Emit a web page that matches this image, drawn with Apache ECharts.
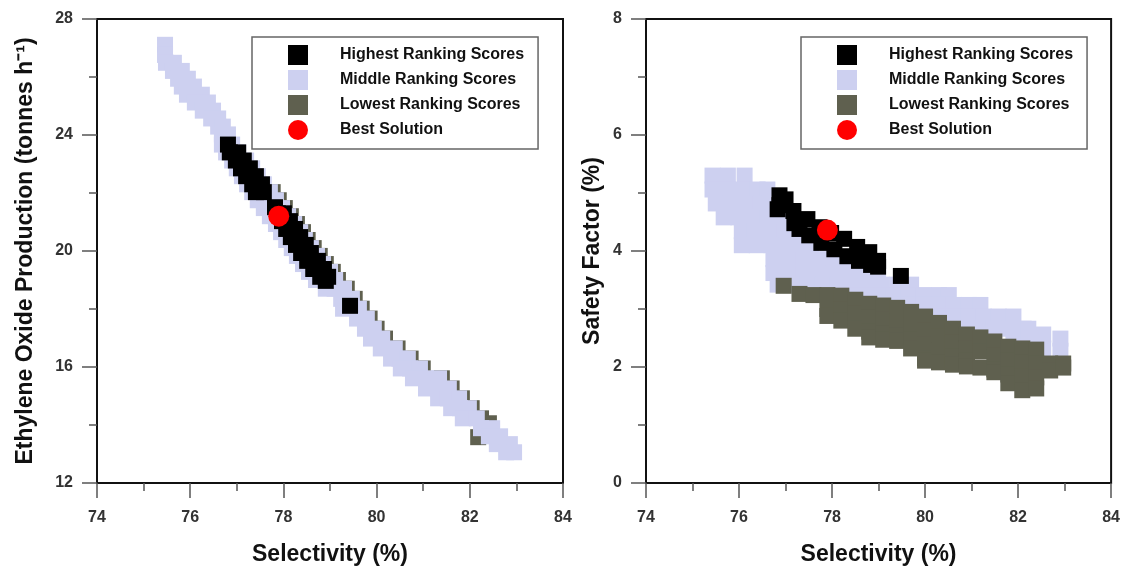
<!DOCTYPE html>
<html>
<head>
<meta charset="utf-8">
<title>Ranking scores vs selectivity</title>
<script src="https://cdn.jsdelivr.net/npm/echarts@6/dist/echarts.min.js"></script>
<style>
  html, body { margin: 0; padding: 0; background: #fff; }
  #chart { width: 1123px; height: 571px; }
</style>
</head>
<body>
<div id="chart"></div>
<script>
// ---- Series names ----
const seriesNames = ['Highest Ranking Scores', 'Middle Ranking Scores', 'Lowest Ranking Scores', 'Best Solution'];

// ---- Axis ticks ----
const selectivityTicks = [74, 76, 78, 80, 82, 84];
const productionTicks = [12, 16, 20, 24, 28];
const safetyTicks = [0, 2, 4, 6, 8];

// ---- Left panel: selectivity (%) vs ethylene oxide production (t/h) ----
const prodHighest = [
  [76.81, 23.67],
  [76.85, 23.40], [77.03, 23.40],
  [76.98, 23.12], [77.15, 23.12],
  [77.09, 22.85], [77.28, 22.85],
  [77.20, 22.58], [77.41, 22.58],
  [77.33, 22.30], [77.54, 22.30],
  [77.41, 22.03], [77.58, 22.03],
  [77.82, 21.51],
  [77.88, 21.30], [78.01, 21.30],
  [77.97, 21.03], [78.14, 21.03],
  [78.06, 20.76], [78.25, 20.76],
  [78.16, 20.48], [78.36, 20.48],
  [78.27, 20.21], [78.48, 20.21],
  [78.38, 19.93], [78.59, 19.93],
  [78.51, 19.66], [78.74, 19.66],
  [78.64, 19.38], [78.87, 19.38],
  [78.79, 19.11], [78.96, 19.11],
  [78.91, 18.97],
  [79.43, 18.11]
];

const prodMiddle = [
  [75.46, 27.11], [75.46, 26.76], [75.48, 26.49], [75.65, 26.49],
  [75.63, 26.21], [75.82, 26.21], [75.74, 25.94], [75.95, 25.94],
  [75.82, 25.67], [76.08, 25.67], [75.93, 25.39], [76.25, 25.39],
  [76.10, 25.12], [76.38, 25.12], [76.27, 24.84], [76.49, 24.84],
  [76.45, 24.57], [76.60, 24.57], [76.60, 24.29], [76.70, 24.29],
  [76.68, 24.02], [76.81, 24.02],
  [76.68, 23.67], [76.90, 23.67],
  [76.77, 23.40], [77.03, 23.40],
  [76.90, 23.12], [77.20, 23.12],
  [77.00, 22.85], [77.33, 22.85],
  [77.11, 22.58], [77.28, 22.58], [77.45, 22.58],
  [77.22, 22.30], [77.40, 22.30], [77.58, 22.30],
  [77.33, 22.03], [77.52, 22.03], [77.71, 22.03],
  [77.45, 21.75], [77.64, 21.75], [77.84, 21.75],
  [77.58, 21.48], [77.78, 21.48], [77.97, 21.48],
  [77.71, 21.20], [77.90, 21.20], [78.10, 21.20],
  [77.84, 20.93], [78.03, 20.93], [78.23, 20.93],
  [77.95, 20.65], [78.15, 20.65], [78.36, 20.65],
  [78.06, 20.38], [78.26, 20.38], [78.46, 20.38],
  [78.18, 20.10], [78.38, 20.10], [78.59, 20.10],
  [78.29, 19.83], [78.50, 19.83], [78.72, 19.83],
  [78.42, 19.55], [78.63, 19.55], [78.85, 19.55],
  [78.55, 19.28], [78.77, 19.28], [79.00, 19.28],
  [78.70, 19.00], [78.90, 19.00], [79.11, 19.00],
  [78.91, 18.70], [79.10, 18.70], [79.30, 18.70],
  [79.24, 18.35], [79.47, 18.35],
  [79.28, 18.01], [79.62, 18.01],
  [79.58, 17.67], [79.79, 17.67],
  [79.75, 17.32], [79.94, 17.32],
  [79.88, 16.98], [80.12, 16.98],
  [80.09, 16.64], [80.39, 16.64],
  [80.31, 16.29], [80.49, 16.29], [80.67, 16.29],
  [80.52, 15.95], [80.72, 15.95], [80.93, 15.95],
  [80.78, 15.61], [81.06, 15.61], [81.34, 15.61],
  [81.06, 15.26], [81.32, 15.26], [81.55, 15.26],
  [81.32, 14.92], [81.53, 14.92], [81.77, 14.92],
  [81.60, 14.58], [81.79, 14.58], [81.98, 14.58],
  [81.85, 14.23], [82.15, 14.23],
  [82.24, 13.89], [82.48, 13.89],
  [82.41, 13.61], [82.65, 13.61],
  [82.58, 13.34], [82.86, 13.34],
  [82.78, 13.06], [82.95, 13.06]
];

const prodLowest = [
  [77.77, 22.03], [77.90, 21.75], [78.03, 21.48], [78.16, 21.20],
  [78.29, 20.93], [78.42, 20.65], [78.52, 20.38], [78.65, 20.10],
  [78.78, 19.83], [78.91, 19.55], [79.06, 19.28], [79.17, 19.00],
  [79.36, 18.70], [79.53, 18.35], [79.68, 18.01], [79.85, 17.67],
  [80.00, 17.32], [80.18, 16.98], [80.45, 16.64], [80.73, 16.29],
  [80.99, 15.95], [81.40, 15.61], [81.61, 15.26], [81.83, 14.92],
  [82.04, 14.58], [82.24, 14.23], [82.41, 14.06], [82.18, 13.58]
];

const prodBest = [[77.90, 21.20]];

// ---- Right panel: selectivity (%) vs safety factor (%) ----
const safetyHighest = [
  [76.87, 4.96], [76.83, 4.72], [76.87, 4.79], [77.00, 4.89],
  [77.17, 4.69], [77.19, 4.48], [77.30, 4.38], [77.47, 4.55],
  [77.51, 4.27], [77.73, 4.41], [77.77, 4.14], [77.98, 4.31],
  [78.05, 4.03], [78.26, 4.21], [78.33, 3.91], [78.54, 4.07],
  [78.58, 3.83], [78.80, 3.98], [78.84, 3.76], [78.99, 3.83],
  [78.99, 3.73],
  [79.48, 3.57]
];

const safetyMiddle = [
  [75.43, 5.30], [75.76, 5.30], [76.12, 5.30],
  [75.43, 5.06], [75.76, 5.06], [76.08, 5.06], [76.40, 5.06], [76.61, 5.06],
  [75.50, 4.82], [75.82, 4.82], [76.14, 4.82], [76.46, 4.82], [76.66, 4.82],
  [75.67, 4.58], [75.99, 4.58], [76.31, 4.58], [76.61, 4.58], [76.87, 4.58],
  [76.06, 4.34], [76.33, 4.34], [76.66, 4.34], [76.98, 4.34], [77.19, 4.34],
  [76.06, 4.10], [76.38, 4.10], [76.70, 4.10], [77.02, 4.10], [77.30, 4.10], [77.55, 4.10],
  [76.74, 3.86], [77.06, 3.86], [77.38, 3.86], [77.70, 3.86], [78.03, 3.86], [78.33, 3.86],
  [76.74, 3.62], [77.06, 3.62], [77.38, 3.62], [77.70, 3.62], [78.03, 3.62], [78.35, 3.62],
  [78.67, 3.62], [78.99, 3.62],
  [76.83, 3.42], [77.15, 3.42], [77.47, 3.42], [77.79, 3.42], [78.11, 3.42], [78.43, 3.42],
  [78.75, 3.42], [79.07, 3.42], [79.40, 3.42], [79.70, 3.42],
  [78.37, 3.24], [78.69, 3.24], [79.01, 3.24], [79.33, 3.24], [79.65, 3.24], [79.97, 3.24],
  [80.30, 3.24], [80.51, 3.24],
  [79.01, 3.07], [79.33, 3.07], [79.65, 3.07], [79.97, 3.07], [80.30, 3.07], [80.62, 3.07],
  [80.94, 3.07], [81.19, 3.07],
  [79.65, 2.87], [79.97, 2.87], [80.30, 2.87], [80.62, 2.87], [80.94, 2.87], [81.26, 2.87],
  [81.58, 2.87], [81.90, 2.87],
  [80.51, 2.66], [80.83, 2.66], [81.15, 2.66], [81.47, 2.66], [81.79, 2.66], [82.12, 2.66],
  [82.22, 2.66],
  [81.90, 2.49], [82.22, 2.49],
  [82.54, 2.56], [82.91, 2.49], [82.54, 2.32], [82.91, 2.28]
];

const safetyLowest = [
  [76.96, 3.40],
  [77.30, 3.26],
  [77.60, 3.24],
  [77.90, 3.24], [77.90, 3.00], [77.90, 2.88],
  [78.20, 3.23], [78.20, 2.99], [78.20, 2.80],
  [78.50, 3.16], [78.50, 2.92], [78.50, 2.66],
  [78.80, 3.09], [78.80, 2.85], [78.80, 2.61], [78.80, 2.51],
  [79.10, 3.06], [79.10, 2.82], [79.10, 2.58], [79.10, 2.47],
  [79.40, 3.02], [79.40, 2.78], [79.40, 2.54], [79.40, 2.45],
  [79.70, 2.95], [79.70, 2.71], [79.70, 2.47], [79.70, 2.32],
  [80.00, 2.87], [80.00, 2.63], [80.00, 2.39], [80.00, 2.15], [80.00, 2.11],
  [80.30, 2.76], [80.30, 2.52], [80.30, 2.28], [80.30, 2.08],
  [80.60, 2.66], [80.60, 2.42], [80.60, 2.18], [80.60, 2.04],
  [80.90, 2.56], [80.90, 2.32], [80.90, 2.11], [80.90, 2.01],
  [81.19, 2.51], [81.19, 2.27], [81.19, 1.99],
  [81.49, 2.44], [81.49, 2.20], [81.49, 1.96], [81.49, 1.91],
  [81.79, 2.35], [81.79, 2.11], [81.79, 1.87], [81.79, 1.72],
  [82.09, 2.32], [82.09, 2.08], [82.09, 1.84], [82.09, 1.60],
  [82.39, 2.30], [82.39, 2.06], [82.39, 1.82], [82.39, 1.63],
  [82.69, 2.06], [82.69, 1.94],
  [82.97, 2.06], [82.97, 1.99]
];

const safetyBest = [[77.90, 4.36]];

// ---- Styling ----
const FONT = 'Liberation Sans, Arial, sans-serif';
const COLORS = {
  highest: '#000000',
  middle: '#cdd0f0',
  lowest: '#5f604f',
  best: '#ff0000'
};
const SQUARE = 16;

function scatter(name, data, color, gridIdx, symbol, size) {
  return {
    name: name,
    type: 'scatter',
    xAxisIndex: gridIdx,
    yAxisIndex: gridIdx,
    data: data,
    symbol: symbol,
    symbolSize: size,
    itemStyle: { color: color, opacity: 1 },
    emphasis: { disabled: true },
    silent: true
  };
}

function xAxisFor(gridIdx) {
  return {
    type: 'value',
    gridIndex: gridIdx,
    min: selectivityTicks[0],
    max: selectivityTicks[selectivityTicks.length - 1],
    interval: selectivityTicks[1] - selectivityTicks[0],
    name: 'Selectivity (%)',
    nameLocation: 'middle',
    nameGap: 60,
    nameTextStyle: { fontFamily: FONT, fontSize: 23, fontWeight: 'bold', color: '#111' },
    axisLine: { show: true, lineStyle: { color: '#111', width: 2 } },
    axisTick: { show: true, inside: false, length: 15, lineStyle: { color: '#555', width: 1.5 } },
    minorTick: { show: true, splitNumber: 2, length: 8, lineStyle: { color: '#555', width: 1.5 } },
    axisLabel: { margin: 27, fontFamily: FONT, fontSize: 16, fontWeight: 'bold', color: '#333' },
    splitLine: { show: false }
  };
}

function yAxisFor(gridIdx, ticks, name, gap) {
  return {
    type: 'value',
    gridIndex: gridIdx,
    min: ticks[0],
    max: ticks[ticks.length - 1],
    interval: ticks[1] - ticks[0],
    name: name,
    nameLocation: 'middle',
    nameGap: gap,
    nameTextStyle: { fontFamily: FONT, fontSize: 23, fontWeight: 'bold', color: '#111' },
    axisLine: { show: true, lineStyle: { color: '#111', width: 2 } },
    axisTick: { show: true, inside: false, length: 15, lineStyle: { color: '#555', width: 1.5 } },
    minorTick: { show: true, splitNumber: 2, length: 8, lineStyle: { color: '#555', width: 1.5 } },
    axisLabel: { margin: 24, fontFamily: FONT, fontSize: 16, fontWeight: 'bold', color: '#333' },
    splitLine: { show: false }
  };
}

function legendFor(left) {
  return {
    orient: 'vertical',
    left: left,
    top: 37,
    padding: [8, 14, 9, 36],
    itemGap: 5,
    itemWidth: 20,
    itemHeight: 20,
    borderColor: '#666',
    borderWidth: 1.5,
    backgroundColor: '#fff',
    selectedMode: false,
    textStyle: { fontFamily: FONT, fontSize: 16, fontWeight: 'bold', color: '#111', padding: [0, 0, 0, 27] },
    data: [
      { name: seriesNames[0], icon: 'rect' },
      { name: seriesNames[1], icon: 'rect' },
      { name: seriesNames[2], icon: 'rect' },
      { name: seriesNames[3], icon: 'circle' }
    ]
  };
}

const chart = echarts.init(document.getElementById('chart'), null, { renderer: 'canvas' });

chart.setOption({
  animation: false,
  backgroundColor: '#fff',
  grid: [
    { left: 97, top: 19, width: 466, height: 466, show: true, borderColor: '#111', borderWidth: 2, backgroundColor: 'transparent' },
    { left: 646, top: 19, width: 467, height: 466, show: true, borderColor: '#111', borderWidth: 2, backgroundColor: 'transparent' }
  ],
  xAxis: [xAxisFor(0), xAxisFor(1)],
  yAxis: [
    yAxisFor(0, productionTicks, 'Ethylene Oxide Production (tonnes h\u207B\u00B9)', 60),
    yAxisFor(1, safetyTicks, 'Safety Factor (%)', 42)
  ],
  legend: [legendFor(252), legendFor(801)],
  series: [
    // left panel: the low-score band sits beneath the middle band
    scatter(seriesNames[2], prodLowest, COLORS.lowest, 0, 'rect', SQUARE),
    scatter(seriesNames[1], prodMiddle, COLORS.middle, 0, 'rect', SQUARE),
    scatter(seriesNames[0], prodHighest, COLORS.highest, 0, 'rect', SQUARE),
    scatter(seriesNames[3], prodBest, COLORS.best, 0, 'circle', 21),
    // right panel
    scatter(seriesNames[1], safetyMiddle, COLORS.middle, 1, 'rect', SQUARE),
    scatter(seriesNames[2], safetyLowest, COLORS.lowest, 1, 'rect', SQUARE),
    scatter(seriesNames[0], safetyHighest, COLORS.highest, 1, 'rect', SQUARE),
    scatter(seriesNames[3], safetyBest, COLORS.best, 1, 'circle', 21)
  ]
});
</script>
</body>
</html>
